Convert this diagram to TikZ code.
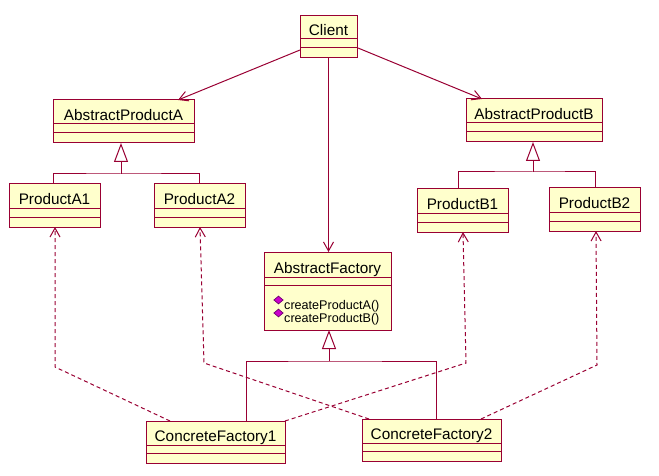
\documentclass[tikz,border=0pt]{standalone}
\usepackage{fontspec}
\setmainfont{Liberation Sans}
\usetikzlibrary{arrows.meta,calc,shapes.geometric}

\definecolor{umlred}{RGB}{153,0,51}
\definecolor{umlfill}{RGB}{255,255,204}
\definecolor{opfill}{RGB}{204,0,204}
\definecolor{opedge}{RGB}{110,0,110}

\tikzset{
  umlline/.style={draw=umlred, line width=1pt},
  clsbox/.style={rectangle, draw=umlred, fill=umlfill, line width=1pt,
    inner sep=0pt, outer sep=0pt},
  clsname/.style={inner sep=0pt, font=\fontsize{15.3}{18}\selectfont, anchor=base},
  opname/.style={inner sep=0pt, font=\fontsize{12.6}{15}\selectfont, anchor=base west},
  opicon/.style={diamond, fill=opfill, draw=opedge, line width=0.7pt,
    minimum width=9.5pt, minimum height=8pt, inner sep=0pt},
  assoc/.style={umlline, -{Straight Barb[length=9pt,width=10pt,line width=1pt]}},
  depend/.style={umlline, dash pattern=on 4pt off 3pt,
    -{Straight Barb[length=9pt,width=10pt,line width=1pt]}},
  genarrow/.style={umlline, -{Triangle[open,length=19pt,width=14pt,fill=white]}},
}

% class box: name, x1, y1, x2, y2, first divider, second divider, title
\newcommand\umlclass[8]{%
  \node[clsbox, anchor=north west, minimum width={(#4-#2)*1pt},
        minimum height={(#5-#3)*1pt}] (#1) at (#2,#3) {};
  \draw[umlline] (#2,#6) -- (#4,#6) (#2,#7) -- (#4,#7);
  \node[clsname] (#1-title) at ({(#2+#4)/2},{#6-3.5}) {#8};
}

\begin{document}
\begin{tikzpicture}[x=1pt,y=-1pt]
  \useasboundingbox (0,0) rectangle (659,476);

  % classes
  \umlclass{client}{300}{16}{357}{58}{39}{48}{Client}
  \umlclass{apa}{53}{100}{194}{143}{124}{133}{AbstractProductA}
  \umlclass{pa1}{9}{184}{100}{227}{208}{217}{ProductA1}
  \umlclass{pa2}{154}{184}{245}{227}{208}{217}{ProductA2}
  \umlclass{apb}{466}{99}{602}{142}{123}{132}{AbstractProductB}
  \umlclass{pb1}{417}{189}{508}{232}{213}{222}{ProductB1}
  \umlclass{pb2}{549}{188}{640}{231}{212}{221}{ProductB2}
  \umlclass{af}{264}{252}{391}{330}{277}{285}{AbstractFactory}
  \umlclass{cf1}{146}{421}{285}{463}{445}{453}{ConcreteFactory1}
  \umlclass{cf2}{362}{419}{501}{461}{443}{451}{ConcreteFactory2}

  % operations of AbstractFactory
  \node[opicon] (op1icon) at (278.5,300) {};
  \node[opicon] (op2icon) at (278.5,313) {};
  \node[opname] (op1) at (284,309) {createProductA()};
  \node[opname] (op2) at (284,322) {createProductB()};

  % associations from Client
  \draw[assoc] ($(client.south west)+(0,-8)$) -- ($(apa.north west)+(125,0)$);
  \draw[assoc] ($(client.south east)+(1,-10)$) -- ($(apb.north west)+(16,0)$);
  \draw[assoc] (client.south) -- (client.south |- af.north);

  % generalization: products A
  \coordinate (ja) at ($(apa.south west)+(68,31)$);
  \draw[umlline] ($(pa1.north west)+(44,0)$) |- (ja) -| ($(pa2.north west)+(45,0)$);
  \draw[genarrow] (ja) -- ($(apa.south west)+(68,0)$);

  % generalization: products B
  \coordinate (jb) at ($(apb.south west)+(67,30)$);
  \draw[umlline] ($(pb1.north west)+(41,0)$) |- (jb) -| ($(pb2.north west)+(46,0)$);
  \draw[genarrow] (jb) -- ($(apb.south west)+(67,0)$);

  % generalization: factories
  \coordinate (jf) at ($(af.south west)+(65,31)$);
  \draw[umlline] ($(cf1.north west)+(100,0)$) |- (jf) -| ($(cf2.north west)+(74,0)$);
  \draw[genarrow] (jf) -- ($(af.south west)+(65,0)$);

  % dependencies of the concrete factories
  \coordinate (d1) at ($(pa1.south west)+(46,140)$);
  \coordinate (d2) at ($(pa2.south west)+(50,136)$);
  \coordinate (d3) at ($(pb1.south west)+(49,131)$);
  \coordinate (d4) at ($(pb2.south west)+(48,134)$);
  \draw[depend] ($(cf1.north west)+(24,0)$) -- (d1) -- ($(pa1.south west)+(46,0)$);
  \draw[depend] ($(cf2.north west)+(7,0)$) -- (d2) -- ($(pa2.south west)+(46,0)$);
  \draw[depend] (cf1.north east) -- (d3) -- ($(pb1.south west)+(46,0)$);
  \draw[depend] ($(cf2.north west)+(119,0)$) -- (d4) -- ($(pb2.south west)+(47,0)$);
\end{tikzpicture}
\end{document}
